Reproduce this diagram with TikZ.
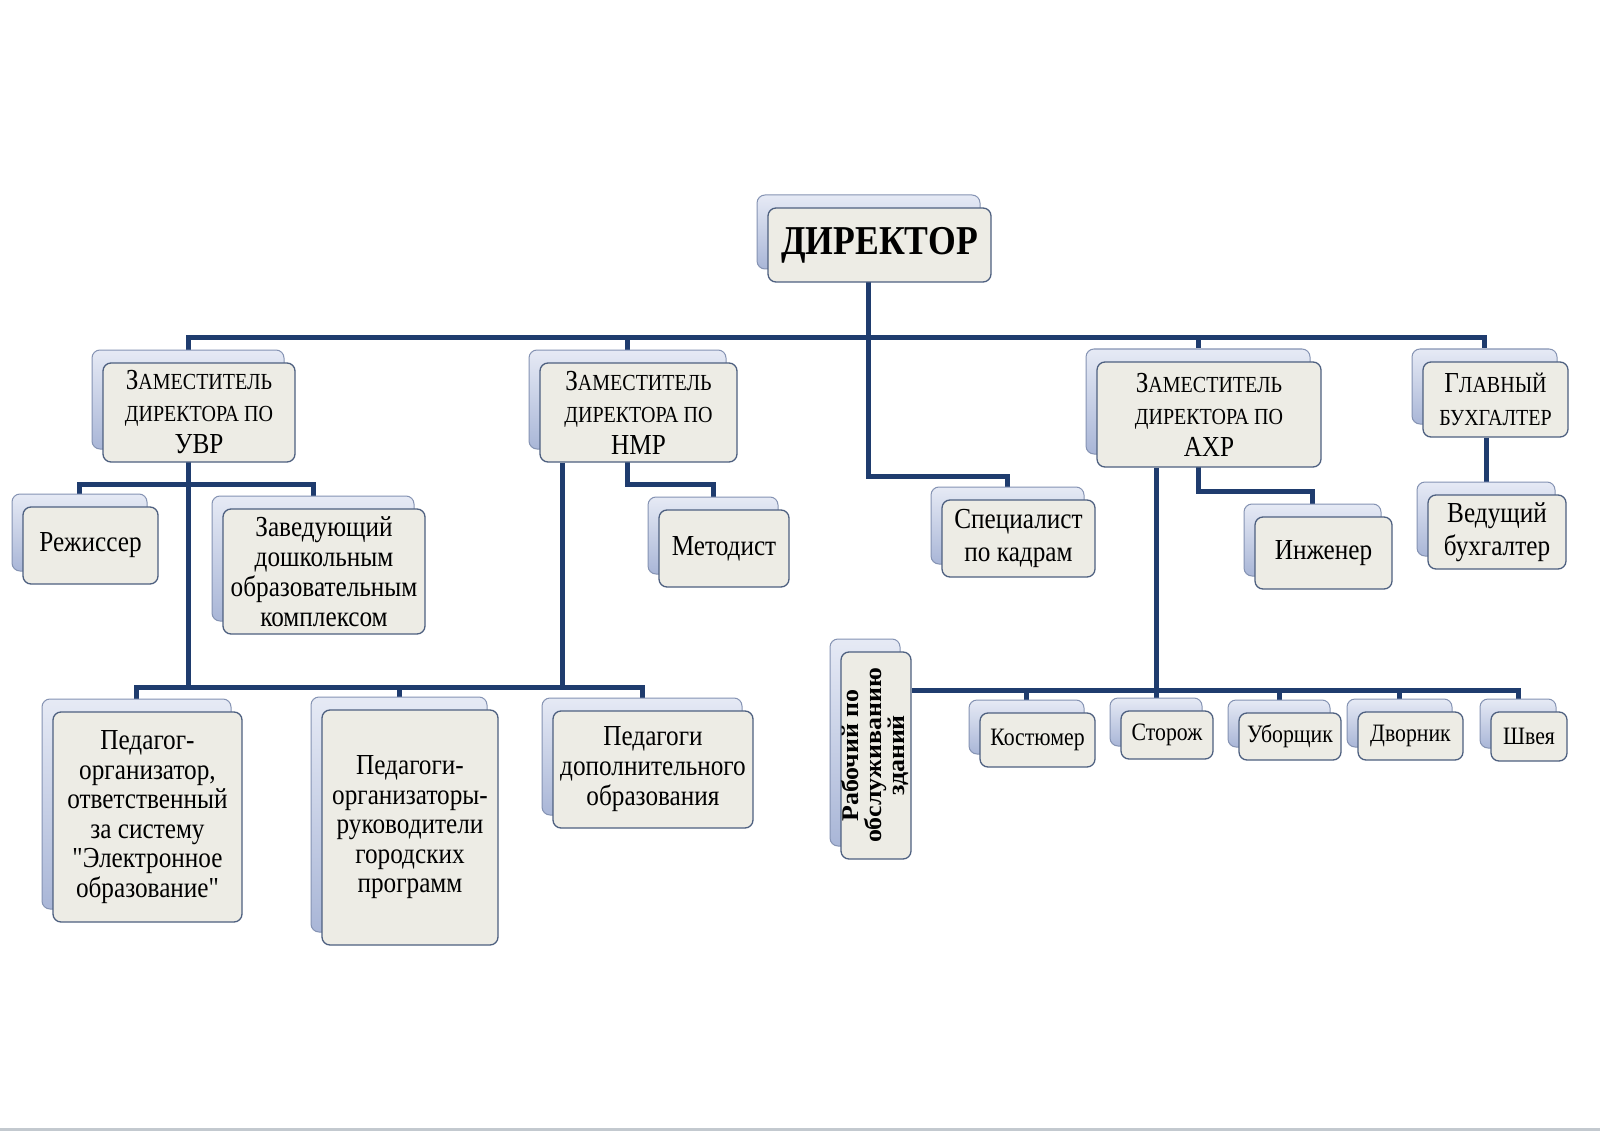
\documentclass[tikz,border=0pt]{standalone}
\usepackage{fontspec}
\usepackage{graphicx}
\setmainfont{Liberation Serif}[FakeStretch=0.87, Ligatures=TeXOff]
\newfontfamily\rotfont{Liberation Serif}[FakeStretch=1.08, Ligatures=TeXOff]
\usetikzlibrary{backgrounds,calc}

\definecolor{linecol}{HTML}{1F3C6E}
\definecolor{frontfill}{HTML}{EDECE5}
\definecolor{frontdraw}{HTML}{4E6080}
\definecolor{backtop}{HTML}{E6EAF5}
\definecolor{backbot}{HTML}{A9B6D7}
\definecolor{backdraw}{HTML}{8593B3}
\definecolor{framegray}{HTML}{C3C9CF}

\newcommand{\smc}[1]{{\fontsize{23}{30}\selectfont #1}}

\tikzset{
  backbox/.style={draw=backdraw, line width=1pt, rounded corners=8pt,
    top color=backtop, bottom color=backbot, inner sep=0pt},
  frontbox/.style={draw=frontdraw, line width=1.3pt, rounded corners=8pt,
    fill=frontfill, inner sep=0pt, align=center, text=black,
    font=\fontsize{29}{30}\selectfont},
  zamfont/.style={font=\fontsize{29}{32}\selectfont},
  widefont/.style={font=\fontsize{29}{33}\selectfont},
  pofont/.style={font=\fontsize{29}{29.5}\selectfont},
  smallfont/.style={font=\fontsize{25}{26}\selectfont},
  dirfont/.style={font=\bfseries\fontsize{41}{41}\selectfont},
  conn/.style={draw=linecol, line width=5pt},
}

\newcommand{\pairbox}[7][]{%
  \node[backbox, minimum width={#5-#3}, minimum height={#6-#4}]
    (#2-b) at ({(#3+#5)/2-11},{(#4+#6)/2-13}) {};
  \node[frontbox, minimum width={#5-#3}, minimum height={#6-#4}, #1]
    (#2) at ({(#3+#5)/2},{(#4+#6)/2}) {#7};
}

\begin{document}
\begin{tikzpicture}[x=1pt,y=-1pt]
\useasboundingbox (0,0) rectangle (1600,1131);

% boxes
\pairbox[dirfont]{dir}{768}{208}{991}{282}{ДИРЕКТОР}
\pairbox[zamfont]{uvr}{103}{363}{295}{462}{З\smc{АМЕСТИТЕЛЬ}\\\smc{ДИРЕКТОРА ПО}\\УВР}
\pairbox[zamfont]{nmr}{540}{363}{737}{462}{З\smc{АМЕСТИТЕЛЬ}\\\smc{ДИРЕКТОРА ПО}\\НМР}
\pairbox[zamfont]{ahr}{1097}{362}{1321}{467}{З\smc{АМЕСТИТЕЛЬ}\\\smc{ДИРЕКТОРА ПО}\\АХР}
\pairbox[widefont]{gb}{1423}{362}{1568}{437}{Г\smc{ЛАВНЫЙ}\\\smc{БУХГАЛТЕР}}
\pairbox{rezh}{23}{507}{158}{584}{Режиссер}
\pairbox{zav}{223}{509}{425}{634}{Заведующий\\дошкольным\\образовательным\\комплексом}
\pairbox{met}{659}{510}{789}{587}{Методист}
\pairbox[widefont]{spec}{942}{500}{1095}{577}{Специалист\\по кадрам}
\pairbox{ing}{1255}{517}{1392}{589}{Инженер}
\pairbox[widefont]{ved}{1428}{495}{1566}{569}{Ведущий\\бухгалтер}
\pairbox[pofont]{po}{53}{712}{242}{922}{Педагог-\\организатор,\\ответственный\\за систему\\"Электронное\\образование"}
\pairbox[pofont]{pgp}{322}{710}{498}{945}{Педагоги-\\организаторы-\\руководители\\городских\\программ}
\pairbox{pdo}{553}{711}{753}{828}{Педагоги\\дополнительного\\образования}
\pairbox{rab}{841}{652}{911}{859}{\rotatebox{90}{\rotfont\bfseries\fontsize{24}{21}\selectfont
  \begin{tabular}{@{}c@{}}Рабочий по\\обслуживанию\\зданий\end{tabular}}}
\pairbox[smallfont]{kos}{980}{713}{1095}{767}{Костюмер}
\pairbox[smallfont]{stor}{1121}{711}{1213}{759}{Сторож}
\pairbox[smallfont]{ub}{1239}{713}{1341}{760}{Уборщик}
\pairbox[smallfont]{dv}{1358}{712}{1463}{760}{Дворник}
\pairbox[smallfont]{shv}{1491}{712}{1567}{761}{Швея}

\begin{scope}[on background layer]
  \fill[white] (0,0) rectangle (1600,1131);
  \fill[framegray] (0,1128) rectangle (1600,1131);
  \coordinate (bus) at (0,338);
  \coordinate (hrbus) at (0,476);
  \coordinate (uvrbus) at (0,484);
  \coordinate (pedbus) at (0,687);
  \coordinate (metbus) at (0,484);
  \coordinate (ingbus) at (0,491);
  \coordinate (svc) at (0,690);
  \coordinate (nmrdrop) at ($(nmr.south west)+(23,0)$);
  % top level
  \draw[conn] (uvr-b.north) -- (uvr-b.north |- bus) -- (gb-b.north |- bus) -- (gb-b.north);
  \draw[conn] (nmr-b.north) -- (nmr-b.north |- bus);
  \draw[conn] (ahr-b.north) -- (ahr-b.north |- bus);
  \draw[conn] (dir-b.south) -- (dir-b.south |- hrbus) -- (spec-b.north |- hrbus) -- (spec-b.north);
  % UVR
  \draw[conn] (uvr-b.south) -- (uvr-b.south |- pedbus);
  \draw[conn] (rezh-b.north) -- (rezh-b.north |- uvrbus) -- (zav-b.north |- uvrbus) -- (zav-b.north);
  \draw[conn] (po-b.north) -- (po-b.north |- pedbus) -- (pdo-b.north |- pedbus) -- (pdo-b.north);
  \draw[conn] (pgp-b.north) -- (pgp-b.north |- pedbus);
  % NMR
  \draw[conn] (nmrdrop) -- (nmrdrop |- pedbus);
  \draw[conn] (nmr-b.south) -- (nmr-b.south |- metbus) -- (met-b.north |- metbus) -- (met-b.north);
  % AHR
  \draw[conn] (ahr-b.south) -- (ahr-b.south |- ingbus) -- (ing-b.north |- ingbus) -- (ing-b.north);
  \draw[conn] (stor-b.north |- ahr.south) -- (stor-b.north);
  \draw[conn] (rab.east |- svc) -- (shv-b.north |- svc) -- (shv-b.north);
  \draw[conn] (kos-b.north) -- (kos-b.north |- svc);
  \draw[conn] (ub-b.north) -- (ub-b.north |- svc);
  \draw[conn] (dv-b.north) -- (dv-b.north |- svc);
  % accounting
  \draw[conn] (ved-b.north |- gb.south) -- (ved-b.north);
\end{scope}
\end{tikzpicture}
\end{document}
